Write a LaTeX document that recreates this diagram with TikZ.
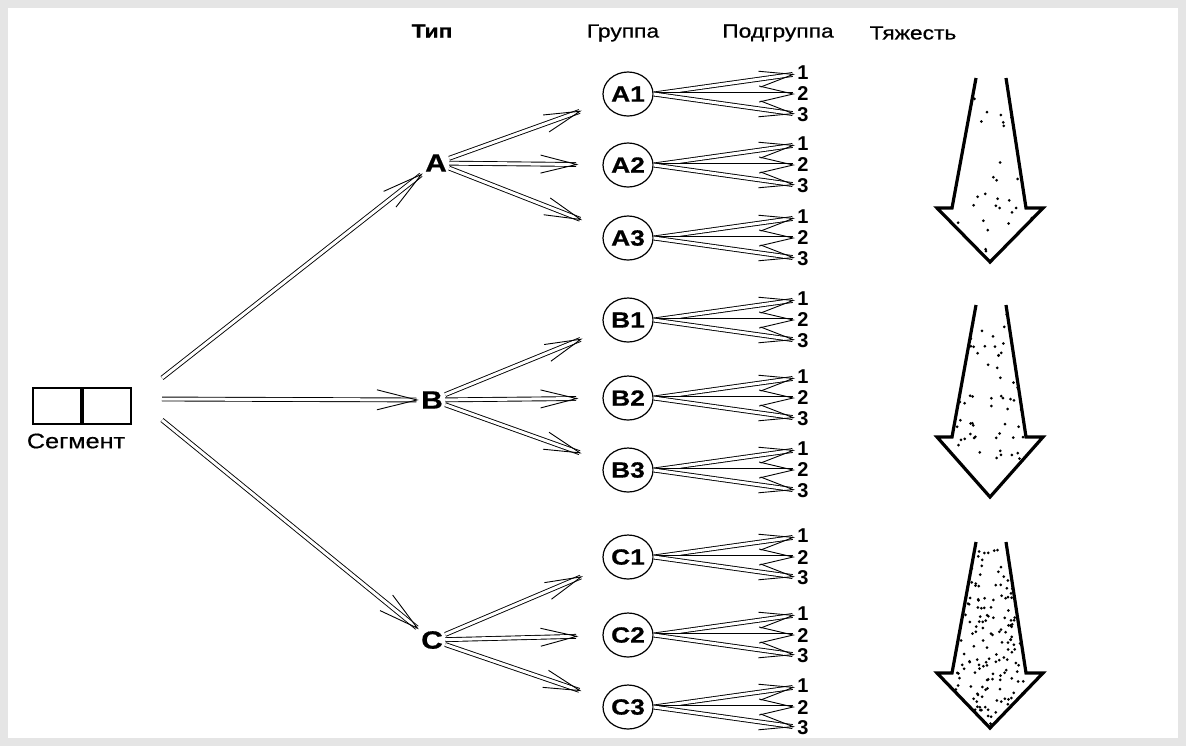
\documentclass[tikz,border=0pt]{standalone}
\usepackage{fontspec}
\setmainfont{Liberation Sans}
\newfontfamily\wf[FakeStretch=1.2,FakeBold=0.6]{Liberation Sans}
\usetikzlibrary{arrows.meta,shapes.geometric}
\newcommand\heavyarrow[5]{%
  \begin{scope}
    \clip (976,#1) -- (952,#2) -- (937,#2) -- (990,#3) -- (1043,#2) -- (1026,#2) -- (1006,#1) -- cycle;
    \pgfmathsetseed{#5}
    \foreach \i in {1,...,#4}{%
      \pgfmathsetmacro\px{940+100*rnd}%
      \pgfmathsetmacro\py{#1+6+(#3-#1-10)*rnd}%
      \fill (\px,\py) circle (1.5);
    }
  \end{scope}
  \draw[line width=1.6pt,line join=miter] (976,#1) -- (952,#2) -- (937,#2) -- (990,#3) -- (1043,#2) -- (1026,#2) -- (1006,#1);
}
\begin{document}
\begin{tikzpicture}[x=0.5pt,y=-0.5pt,
  dbl/.style={draw=black,line width=0.45pt,double=white,double distance=1.5pt},
  bigarr/.style={dbl,-{Straight Barb[length=20pt,width=10pt]}},
  midarr/.style={dbl,-{Straight Barb[length=18pt,width=9pt]}},
  subarr/.style={dbl,-{Straight Barb[length=17pt,width=8pt]}},
  hdr/.style={font=\wf\fontsize{9.5}{11}\selectfont,inner sep=1pt},
  lbl/.style={font=\wf\bfseries\fontsize{12.5}{14}\selectfont,inner sep=1pt},
  grp/.style={ellipse,draw,line width=0.6pt,minimum width=25pt,minimum height=22pt,inner sep=0pt,font=\wf\bfseries\fontsize{11}{13}\selectfont},
  num/.style={font=\bfseries\fontsize{10}{11}\selectfont,inner sep=1pt},
  segbox/.style={draw,line width=1.4pt,minimum width=24pt,minimum height=18pt,inner sep=0pt}
]
\fill[black!10] (0,0) rectangle (1186,746);
\fill[white] (8,8) rectangle (1178,738);
\useasboundingbox (0,0) rectangle (1186,746);

% headers
\node[hdr,font=\wf\bfseries\fontsize{9.5}{11}\selectfont] (hType) at (432,31) {Тип};
\node[hdr] (hGroup) at (623,33) {Группа};
\node[hdr] (hSub) at (778,33) {Подгруппа};
\node[hdr] (hHeavy) at (913,33) {Тяжесть};

% segment
\node[segbox] (segL) at (57,406) {};
\node[segbox] (segR) at (107,406) {};
\node[hdr,font=\wf\fontsize{10.5}{12}\selectfont] (segT) at (76,441) {Сегмент};
\coordinate (sA) at (162,378);
\coordinate (sB) at (162,399);
\coordinate (sC) at (162,420);

% types
\node[lbl] (A) at (436,163) {A};
\node[lbl] (B) at (432,400) {B};
\node[lbl] (C) at (432,640) {C};
\draw[bigarr] (sA) -- (A);
\draw[bigarr] (sB) -- (B);
\draw[bigarr] (sC) -- (C);

% groups and subgroups
\foreach \g/\y in {A1/94,A2/165,A3/238,B1/320,B2/398,B3/470,C1/557,C2/635,C3/707}{
  \node[grp] (\g) at (628,\y) {\g};
  \foreach \k/\d in {1/-21,2/0,3/21}{
    \node[num] (\g-\k) at (803,\y+\d) {\k};
    \draw[subarr] (\g.east) -- (\g-\k);
  }
}
\foreach \t in {A,B,C}{
  \foreach \i in {1,2,3}{
    \draw[midarr,shorten >=12pt] (\t) -- (\t\i);
  }
}

% heaviness arrows
\heavyarrow{78}{208}{262}{50}{3}
\heavyarrow{305}{437}{497}{100}{11}
\heavyarrow{542}{673}{728}{280}{5}
\end{tikzpicture}
\end{document}
